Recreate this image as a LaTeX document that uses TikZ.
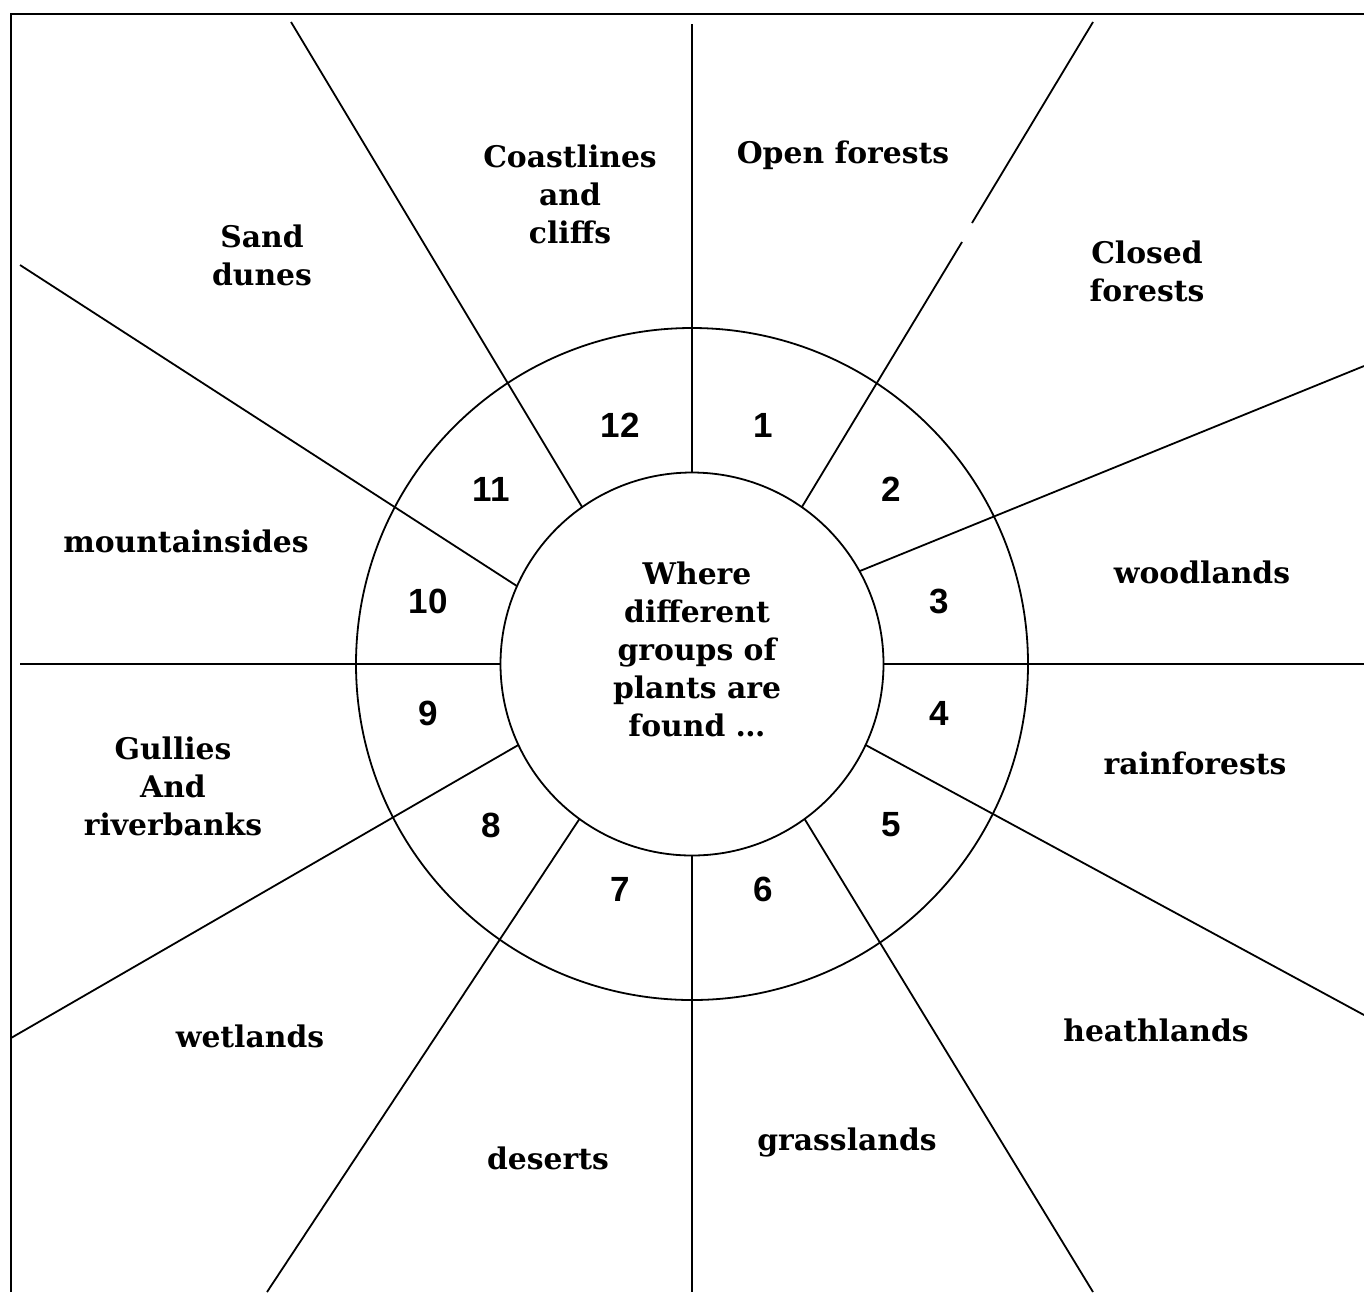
\documentclass[tikz,border=0pt]{standalone}
\usepackage{fontspec}
\setmainfont{DejaVu Serif}
\newfontfamily\numfont{Liberation Sans}
\begin{document}
\begin{tikzpicture}[x=0.5pt,y=-0.5pt,
  lbl/.style={font=\bfseries\fontsize{14.9}{19}\selectfont, align=center, inner sep=0pt},
  num/.style={font=\numfont\bfseries\fontsize{17.5}{20}\selectfont, inner sep=0pt},
  ln/.style={line width=0.9pt},
  ring/.style={circle, draw, line width=0.9pt, inner sep=0pt, outer sep=0pt}]
\useasboundingbox (0,0) rectangle (1364,1292);
% frame
\draw[line width=1.1pt] (11,1292) -- (11,14) -- (1364,14);
% circles
\node[ring, minimum size=336pt] (o) at (692,664) {};
\node[ring, minimum size=191.5pt] (c) at (692,664) {};
% end points
\coordinate (e12) at (692,24);
\coordinate (g1) at (962,242);
\coordinate (g2) at (972,223);
\coordinate (e1) at (1093,22);
\coordinate (e2) at (1364,366);
\coordinate (e3) at (1364,664);
\coordinate (e4) at (1364,1015);
\coordinate (e5) at (1093,1292);
\coordinate (e6) at (692,1292);
\coordinate (e7) at (267,1292);
\coordinate (e8) at (11,1038);
\coordinate (e9) at (20,664);
\coordinate (e10) at (20,265);
\coordinate (e11) at (291,22);
% radial lines
\draw[ln] (c.90) -- (e12);
\draw[ln] (c.55) -- (g1);
\draw[ln] (g2) -- (e1);
\draw[ln] (c.29) -- (e2);
\draw[ln] (c.0) -- (e3);
\draw[ln] (c.-25) -- (e4);
\draw[ln] (c.-54) -- (e5);
\draw[ln] (c.-90) -- (e6);
\draw[ln] (c.234) -- (e7);
\draw[ln] (c.205) -- (e8);
\draw[ln] (c.180) -- (e9);
\draw[ln] (c.156) -- (e10);
\draw[ln] (c.125) -- (e11);
% numbers
\node[num] (n1) at (763,425) {1};
\node[num] (n2) at (891,489) {2};
\node[num] (n3) at (939,601) {3};
\node[num] (n4) at (939,713) {4};
\node[num] (n5) at (891,825) {5};
\node[num] (n6) at (763,889) {6};
\node[num] (n7) at (620,889) {7};
\node[num] (n8) at (491,825) {8};
\node[num] (n9) at (428,713) {9};
\node[num] (n10) at (428,601) {10};
\node[num] (n11) at (491,489) {11};
\node[num] (n12) at (620,425) {12};
% centre text
\node[lbl] (t) at (697,649) {Where\\different\\groups of\\plants are\\found \dots};
% labels
\node[lbl] (l1) at (843,155) {Open forests};
\node[lbl] (l2) at (1147,271) {Closed\\forests};
\node[lbl] (l3) at (1202,572) {woodlands};
\node[lbl] (l4) at (1195,763) {rainforests};
\node[lbl] (l5) at (1156,1030) {heathlands};
\node[lbl] (l6) at (847,1142) {grasslands};
\node[lbl] (l7) at (548,1158) {deserts};
\node[lbl] (l8) at (250,1036) {wetlands};
\node[lbl] (l9) at (173,786) {Gullies\\And\\riverbanks};
\node[lbl] (l10) at (186,541) {mountainsides};
\node[lbl] (l11) at (262,255) {Sand\\dunes};
\node[lbl] (l12) at (570,194) {Coastlines\\and\\cliffs};
\end{tikzpicture}
\end{document}
